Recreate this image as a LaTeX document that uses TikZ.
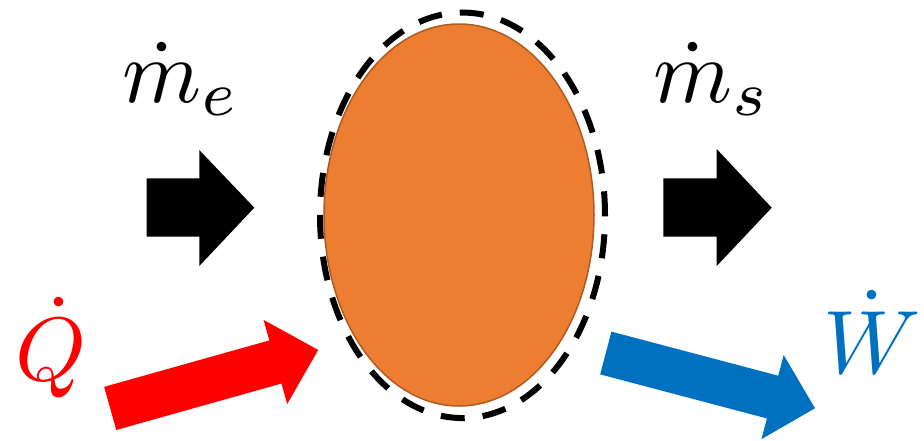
\documentclass[tikz,border=0pt]{standalone}
\usetikzlibrary{shapes.geometric}
\definecolor{sysorange}{HTML}{ED7D31}
\definecolor{sysborder}{HTML}{AE5A21}
\definecolor{workblue}{HTML}{0070C0}
\definecolor{heatred}{HTML}{FF0000}
\tikzset{
  biglabel/.style={anchor=base, inner sep=0pt, scale=9}
}
\begin{document}
\begin{tikzpicture}[x=1pt,y=-1pt]
\useasboundingbox (0,0) rectangle (924,440);
% system
\node[ellipse, fill=sysorange, draw=sysborder, line width=1.5pt,
      minimum width=270pt, minimum height=382pt, inner sep=0pt] (sys) at (459,215) {};
\node[ellipse, draw=black, line width=6pt, dash pattern=on 24pt off 18pt,
      minimum width=285pt, minimum height=405.5pt, inner sep=0pt] (cv) at (462.5,215.3) {};
% mass flow arrows
\fill[black] (146.7,178.3) -- (199.3,178.3) -- (199.3,150) -- (254.3,207.7)
  -- (199.3,266) -- (199.3,236.7) -- (146.7,236.7) -- cycle;
\fill[black] (663.3,178.3) -- (716.7,178.3) -- (716.7,149) -- (771.7,207.7)
  -- (716.7,266) -- (716.7,236.7) -- (663.3,236.7) -- cycle;
% heat arrow
\begin{scope}[shift={(110.2,408.4)}, rotate=15.7]
\fill[heatred] (0,-22.4) -- (171.6,-22.4) -- (171.6,-43.7) -- (216.1,0)
  -- (171.6,43.7) -- (171.6,22.4) -- (0,22.4) -- cycle;
\end{scope}
% work arrow
\begin{scope}[shift={(605.8,353)}, rotate=-14.8]
\fill[workblue] (0,-22.1) -- (172.5,-22.1) -- (172.5,-43.5) -- (216.4,0)
  -- (172.5,43.5) -- (172.5,22.1) -- (0,22.1) -- cycle;
\end{scope}
% labels
\node[biglabel] (me) at (181,102) {$\dot{m}_e$};
\node[biglabel] (ms) at (712,102) {$\dot{m}_s$};
\node[biglabel, text=heatred] (Q) at (51.5,380) {$\dot{Q}$};
\node[biglabel, text=workblue] (W) at (872,373) {$\dot{W}$};
\end{tikzpicture}
\end{document}
